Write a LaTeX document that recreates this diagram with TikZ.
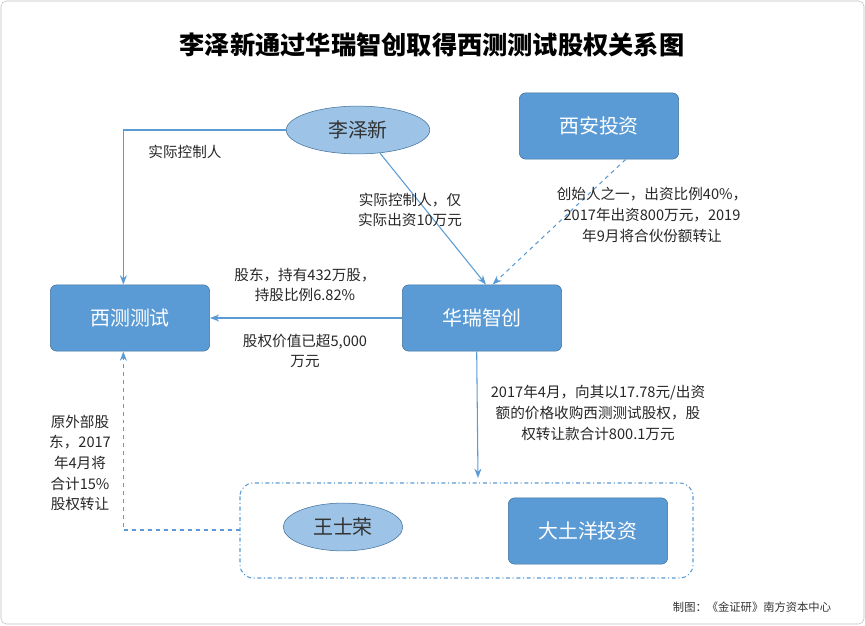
\documentclass[tikz,border=0pt]{standalone}
\usepackage{fontspec}
\setmainfont{Noto Sans CJK SC}
\usetikzlibrary{positioning,calc,arrows.meta,shapes.geometric}
\definecolor{boxblue}{HTML}{5B9BD5}
\definecolor{lightblue}{HTML}{9DC3E6}
\definecolor{edgeblue}{HTML}{41719C}
\begin{document}
\begin{tikzpicture}[
    x=0.0264583cm, y=-0.0264583cm,
    box/.style={ draw=edgeblue, fill=boxblue,
      rounded corners=5pt, text=white,
      align=center, font=\fontsize{15}{18}\selectfont,
      minimum height=50pt, minimum width=120pt},
    oval/.style={ ellipse, draw=edgeblue, fill=lightblue,
      text=black!80, font=\fontsize{15}{18}\selectfont,
      minimum height=36pt, minimum width=108pt},
    lbl/.style={ align=center, font=\fontsize{11}{15.5}\selectfont, text=black!85},
    link/.style={ -{Stealth[length=7pt]}, draw=boxblue, thick}]
    \useasboundingbox (0,0) rectangle (865,625);
    \draw[black!25, rounded corners=4pt] (1,1) rectangle (864,624);
    \node[font=\bfseries\fontsize{19}{22}\selectfont] (title) at (432,45) {李泽新通过华瑞智创取得西测测试股权关系图};

    \node[oval] (L) at (358,130) {李泽新};
    \node[box] (X) at (599,126) {西安投资};
    \node[box] (C) at (130,318) {西测测试};
    \node[box] (H) at (482,318) {华瑞智创};
    \draw[boxblue, thick, dash dot, rounded corners=10pt] (240,483) rectangle (693,578);
    \coordinate (G) at (478,478);
    \node[oval, minimum width=90pt] (W) at (343,527) {王士荣};
    \node[box] (D) at (588,531) {大土洋投资};

    \draw[link] (L.west) -| ([xshift=-5pt]C.north);
    \node[lbl] (l1) at (185,152) {实际控制人};
    \draw[link] (L.south) ++(22,-1) -- ([xshift=3pt]H.north);
    \node[lbl] (l2) at (410,210) {实际控制人，仅\\实际出资10万元};
    \draw[link, dashed] ([xshift=20pt]X.south) -- ([xshift=8pt]H.north);
    \node[lbl] (l3) at (652,215) {创始人之一，出资比例40\%，\\2017年出资800万元，2019\\年9月将合伙份额转让};
    \draw[link] (H.west) -- (C.east);
    \node[lbl] (l4) at (305,285) {股东，持有432万股，\\持股比例6.82\%};
    \node[lbl] (l5) at (305,351) {股权价值已超5,000\\万元};
    \draw[link] ([xshift=-4pt]H.south) -- (G);
    \node[lbl] (l6) at (598,413) {2017年4月，向其以17.78元/出资\\额的价格收购西测测试股权，股\\权转让款合计800.1万元};
    \draw[link, dashed] (240,530) -| ([xshift=-5pt]C.south);
    \node[lbl] (l7) at (80,463) {原外部股\\东，2017\\年4月将\\合计15\%\\股权转让};
    \node[font=\fontsize{8.5}{10}\selectfont, text=black!80] (src) at (752,607) {制图：《金证研》南方资本中心};
\end{tikzpicture}
\end{document}
